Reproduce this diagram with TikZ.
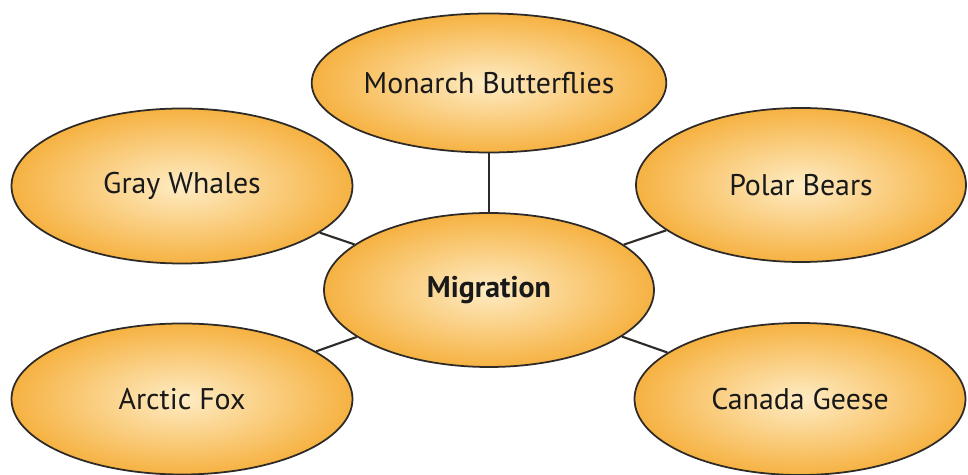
\documentclass[tikz,border=0pt]{standalone}
\usepackage{fontspec}
\setmainfont{PT Sans}
\usepackage{tikz}
\usetikzlibrary{shapes.geometric}
\usepackage{xcolor}

\definecolor{bubblelite}{RGB}{254,236,196}
\definecolor{bubbledark}{RGB}{246,178,66}
\definecolor{bubbleline}{RGB}{45,42,40}

\tikzset{
  bubble/.style={ellipse, draw=bubbleline, line width=1pt, inner sep=0pt,
    shading=radial, inner color=bubblelite, outer color=bubbledark,
    font=\fontsize{17}{20}\selectfont, text=black!90},
  link/.style={draw=bubbleline, line width=1.2pt}
}

\begin{document}
\begin{tikzpicture}
    \useasboundingbox (0cm, 0cm) rectangle (19.36cm, 9.5cm);

      % Links
      \coordinate (c) at (9.78cm, 3.70cm);
      \coordinate (t) at (9.78cm, 7.84cm);

      % Center
      \node[bubble, minimum width=6.6cm, minimum height=3.08cm,
        font=\fontsize{17}{20}\selectfont\bfseries] (mig) at (c) {Migration};

      % Topics
      \node[bubble, minimum width=5.46cm, minimum height=2.78cm] (monarch) at (t) {Monarch Butterflies};
      \node[bubble, minimum width=6.82cm, minimum height=3.10cm] (whales) at (3.64cm, 5.78cm) {Gray Whales};
      \node[bubble, minimum width=6.6cm, minimum height=3.08cm] (bears) at (16.02cm, 5.80cm) {Polar Bears};
      \node[bubble, minimum width=6.82cm, minimum height=3.02cm] (fox) at (3.64cm, 1.52cm) {Arctic Fox};
      \node[bubble, minimum width=6.62cm, minimum height=3.04cm] (geese) at (16.0cm, 1.52cm) {Canada Geese};

      % Connectors
      \draw[link] (monarch) -- (mig);
      \draw[link] (whales) -- (mig);
      \draw[link] (bears) -- (mig);
      \draw[link] (fox) -- (mig);
      \draw[link] (geese) -- (mig);
  \end{tikzpicture}
\end{document}
